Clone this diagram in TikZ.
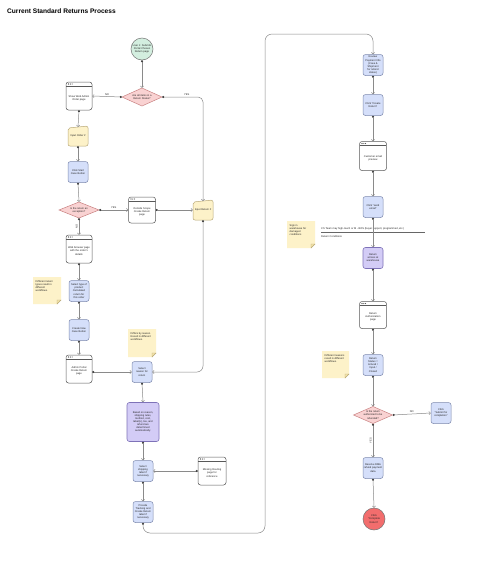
\documentclass[tikz,border=0pt]{standalone}
\usepackage{fontspec}
\setmainfont{Liberation Sans}
\usetikzlibrary{shapes.geometric,arrows.meta}
\definecolor{bluefill}{HTML}{D5DFFA}
\definecolor{bluebd}{HTML}{7E8AAE}
\definecolor{yelfill}{HTML}{FDF2C9}
\definecolor{yelfold}{HTML}{F3E3A8}
\definecolor{yelbd}{HTML}{B9A978}
\definecolor{pinkfill}{HTML}{F9D2D2}
\definecolor{pinkbd}{HTML}{C98282}
\definecolor{greenfill}{HTML}{D3EEDF}
\definecolor{redfill}{HTML}{F26D6D}
\definecolor{purfill}{HTML}{D3CCF6}
\definecolor{purbd}{HTML}{7E72B8}
\definecolor{linec}{HTML}{8A8A8A}
\tikzset{
  tx/.style={font=\fontsize{2.6}{3.1}\selectfont, align=center, text=black!85},
  bluebox/.style={tx, draw=bluebd, fill=bluefill, rounded corners=2.5pt, minimum width=20pt, minimum height=21pt, inner sep=0.5pt, line width=0.5pt},
  purbox/.style={tx, draw=purbd, fill=purfill, rounded corners=2.5pt, minimum width=20pt, minimum height=21pt, inner sep=0.5pt, line width=0.6pt},
  winshape/.style={draw=black!65, fill=white, rounded corners=2.5pt, line width=0.5pt, inner sep=0pt,
    path picture={
      \draw[line width=0.4pt, black!65] ([yshift=-4pt]path picture bounding box.north west) -- ([yshift=-4pt]path picture bounding box.north east);
      \foreach \i in {0,1,2}{\fill[black!80] ([xshift={2.5pt+\i*1.8pt}, yshift=-2pt]path picture bounding box.north west) circle (0.55pt);}
    }},
  conn/.style={draw=linec, line width=0.5pt, {Circle[length=2pt, fill=black!75, color=black!75]}-{Straight Barb[length=1.5pt, width=3.2pt]}},
  lbl/.style={font=\fontsize{2.6}{3}\selectfont, text=black!85, inner sep=1pt},
  termc/.style={tx, circle, draw=black!55, line width=0.5pt, minimum size=22pt, inner sep=0pt}
}
\newcommand{\wbox}[6]{%
  \node[winshape, minimum width=#4pt, minimum height=#5pt] (#1) at (#2,#3) {};
  \node[tx, inner sep=0pt] (#1-t) at ([yshift=-2pt]#1.center) {#6};
}
\newcommand{\ibox}[4]{%
  \filldraw[draw=yelbd, fill=yelfill, line width=0.5pt, rounded corners=2pt] ({#2-10},{#3-8}) -- ({#2+10},{#3-10}) -- ({#2+10},{#3+10}) -- ({#2-10},{#3+10}) -- cycle;
  \node[tx, minimum width=20pt, minimum height=20pt, inner sep=0pt] (#1) at (#2,#3) {#4};
  \coordinate (#1-top) at (#2,{#3-9});
}
\newcommand{\dbox}[6]{%
  \filldraw[draw=pinkbd, fill=pinkfill, line width=0.5pt] ({#2-#4/2},#3) -- (#2,{#3-#5/2}) -- ({#2+#4/2},#3) -- (#2,{#3+#5/2}) -- cycle;
  \node[tx, minimum width=#4pt, minimum height=#5pt, inner sep=0pt] (#1) at (#2,#3) {#6};
}
\newcommand{\nbox}[6]{%
  \fill[yelfill] (#2,#3) -- (#4,#3) -- ({#4},{#5-4}) -- ({#4-4},#5) -- (#2,#5) -- cycle;
  \draw[yelbd, line width=0.4pt, fill=yelfold] ({#4},{#5-4}) -- ({#4-4},{#5-4}) -- ({#4-4},#5) -- cycle;
  \node[tx, anchor=north west, align=left, inner sep=0pt] (#1) at ({#2+2.5},{#3+3}) {#6};
}
\begin{document}
\begin{tikzpicture}[x=1pt,y=-1pt]
\useasboundingbox[fill=white] (0,0) rectangle (496,584);

\node[anchor=west, font=\fontsize{6.6}{7.5}\selectfont\bfseries, inner sep=0pt] (title) at (7,11) {Current Standard Returns Process};

% ---------- left column ----------
\node[termc, fill=greenfill] (start) at (142,49) {User 1: Submits\\Portal Chosen\\Return page};
\dbox{d1}{142}{97}{40}{18}{Are all items in a\\Return Status?}
\wbox{w1}{79}{96}{26}{28}{Show Web Admin\\Order page}
\ibox{io}{78}{136}{Input Order \#}
\node[bluebox] (cs) at (78,172) {Click Start\\Case Button};
\dbox{d2}{79}{210}{40}{16}{Is the return an\\exception?}
\wbox{w2}{142}{210}{27}{26}{Outside Scope\\Create Return\\page}
\ibox{ir}{203}{210}{Input Return \#}
\wbox{w3}{79}{249}{26}{28}{Web browser page\\with the order's\\details}
\node[bluebox] (st) at (79,291) {Select type of\\product\\Calculated\\return for\\this order};
\nbox{n1}{33}{277}{61}{304}{Different return\\types result in\\different\\workflows.}
\node[bluebox] (cn) at (79,330) {Create New\\Case Button};
\wbox{w4}{79}{369}{26}{28}{Admin Portal\\Create Return\\page}
\nbox{n2}{128}{329}{156}{357}{Differs by reason.\\Result in different\\workflows.}
\node[bluebox] (sr) at (142,372) {Select\\reason for\\return};
\node[purbox, minimum width=32pt, minimum height=39pt] (auto) at (143,422) {Based on reason,\\shipping rules,\\method, cost,\\label(s), tax, and\\refund are\\determined\\automatically.};
\node[bluebox] (ss) at (143,471) {Select\\shipping\\label if\\necessary};
\wbox{w5}{212}{471}{28}{28}{Missing Routing\\page for\\reference}
\node[bluebox] (pt) at (143,512) {Provide\\Tracking and\\Create Return\\label if\\necessary};

% ---------- right column ----------
\node[bluebox] (rp) at (373,65) {Review\\Payment Info\\(Case \&\\Shipment\\for refund\\status)};
\node[bluebox] (cr) at (373,105) {Click "Create\\Return"};
\wbox{w6}{373}{156}{27}{29}{Customer email\\preview}
\node[bluebox] (se) at (373,207) {Click "send\\email"};
\node[lbl, anchor=west, inner sep=0pt] (csnote) at (321,229) {CS Team may high-touch or M - BOS (buyer support, programmed, etc.)};
\coordinate (rl1) at (321,232);
\coordinate (rl2) at (425,232);
\draw[black!60, line width=0.4pt] (rl1) -- (rl2);
\node[lbl, anchor=west, inner sep=0pt] (rcond) at (321,237) {Return Conditions};
\nbox{n3}{287}{221}{315}{248}{Sign in\\warehouse for\\damaged\\conditions};
\node[purbox] (ra) at (373,258) {Return\\arrives at\\warehouse};
\wbox{w7}{373}{315}{27}{27}{Return\\Authorization\\page}
\nbox{n4}{322}{351}{349}{378}{Different reasons\\result in different\\workflows.}
\node[bluebox] (rs) at (373,365) {Return\\Status =\\Arrived /\\Input /\\Closed};
\dbox{d3}{373}{415}{39}{17}{Is the return\\authorized to be\\refunded?}
\node[bluebox] (sub) at (441,413) {Click\\"Submit for\\completion"};
\node[bluebox] (rr) at (373,468) {Resolve RMA\\refund payment\\data};
\node[termc, fill=redfill] (end) at (374,519) {Click\\"Complete\\Return"};

% ---------- connectors ----------
\draw[conn] (start) -- (d1.north);
\draw[conn] (d1.west) -- node[lbl, above] {NO} (w1.east);
\draw[conn, rounded corners=5pt] (d1.east) -| node[lbl, pos=0.3, above] {YES} (ir-top);
\draw[conn] (w1.south) -- (io-top);
\draw[conn] (io.south) -- (cs.north);
\draw[conn] (cs.south) -- (d2.north);
\draw[conn] (d2.east) -- node[lbl, above] {YES} (w2.west);
\draw[conn] (w2.east) -- (ir.west);
\draw[conn] (d2.south) -- node[lbl, rotate=90, anchor=south] {NO} (w3.north);
\draw[conn] (w3.south) -- (st.north);
\draw[conn] (st.south) -- (cn.north);
\draw[conn] (cn.south) -- (w4.north);
\draw[conn] (w4.east |- sr.west) -- (sr.west);
\draw[conn, rounded corners=6pt] (ir.south) |- (sr.east);
\draw[conn] (sr.south) -- (auto.north);
\draw[conn] (auto.south) -- (ss.north);
\draw[conn] (w5.west) -- (ss.east);
\draw[conn] (ss.south) -- (pt.north);
\coordinate (c1) at (143,533);
\coordinate (c2) at (265,533);
\coordinate (c3) at (265,34);
\coordinate (c4) at (373,34);
\draw[conn, rounded corners=7pt] (pt.south) -- (c1) -- (c2) -- (c3) -- (c4) -- (rp.north);
\draw[conn] (rp.south) -- (cr.north);
\draw[conn] (cr.south) -- (w6.north);
\draw[conn] (w6.south) -- (se.north);
\draw[conn] (se.south) -- (ra.north);
\draw[conn] (ra.south) -- (w7.north);
\draw[conn] (w7.south) -- (rs.north);
\draw[conn] (rs.south) -- (d3.north);
\draw[conn] (d3.east) -- node[lbl, above] {NO} (sub.west);
\draw[conn] (d3.south) -- node[lbl, rotate=90, anchor=south] {YES} (rr.north);
\draw[conn] (rr.south) -- (end.north);
\end{tikzpicture}
\end{document}
